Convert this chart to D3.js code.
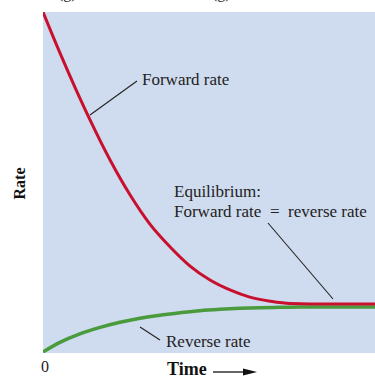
<!DOCTYPE html>
<html><head><meta charset="utf-8">
<script src="https://cdn.jsdelivr.net/npm/d3@7"></script>
<style>html,body{margin:0;padding:0;background:#fff;overflow:hidden}</style>
</head><body>
<script>
const forwardTime = [0, 0.51, 0.96, 1.42, 2.02, 2.62, 3.22, 3.83, 4.43, 5.03, 5.63, 6.23, 6.84, 7.44, 8.04, 10];
const forwardRate = [10, 8.80, 7.80, 6.83, 5.66, 4.64, 3.78, 3.11, 2.55, 2.14, 1.85, 1.64, 1.52, 1.45, 1.44, 1.44];
const reverseTime = [0, 0.51, 1.11, 1.72, 2.32, 2.92, 3.52, 4.13, 4.73, 5.33, 5.93, 6.54, 7.14, 7.74, 10];
const reverseRate = [0.03, 0.31, 0.56, 0.75, 0.90, 1.02, 1.11, 1.18, 1.24, 1.28, 1.31, 1.33, 1.34, 1.35, 1.35];
const xTickLabels = ["0"];
const W = 375, H = 377;
const svg = d3.select("body").append("svg").attr("width", W).attr("height", H);
const x = d3.scaleLinear().domain([0, 10]).range([43, 375]);
const y = d3.scaleLinear().domain([0, 10]).range([353, 12]);
const serif = "'Liberation Serif', 'Times New Roman', serif";

svg.append("defs").append("clipPath").attr("id", "clip")
  .append("rect").attr("x", x(0)).attr("y", y(10)).attr("width", x(10) - x(0)).attr("height", y(0) - y(10));

svg.append("rect").attr("x", x(0)).attr("y", y(10)).attr("width", x(10) - x(0)).attr("height", y(0) - y(10))
  .attr("fill", "#cfdbee");

// labels cut off at the top edge (as in the reference)
[["(g)", 58], ["(g)", 212]].forEach(([t, px]) => {
  svg.append("text").attr("x", px).attr("y", -2).attr("font-family", serif).attr("font-size", 16).attr("fill", "#222").text(t);
});

const line = d3.line().x(d => x(d[0])).y(d => y(d[1])).curve(d3.curveMonotoneX);
const g = svg.append("g").attr("clip-path", "url(#clip)");
g.append("path").datum(reverseTime.map((t, i) => [t, reverseRate[i]]))
  .attr("d", line).attr("fill", "none").attr("stroke", "#4a9b3c").attr("stroke-width", 3.5);
g.append("path").datum(forwardTime.map((t, i) => [t, forwardRate[i]]))
  .attr("d", line).attr("fill", "none").attr("stroke", "#c8102e").attr("stroke-width", 3);

// annotations
const ann = svg.append("g").attr("font-family", serif).attr("font-size", 17).attr("fill", "#222");
ann.append("text").attr("x", 142).attr("y", 85).text("Forward rate");
ann.append("text").attr("x", 174).attr("y", 197).text("Equilibrium:");
const eq = ann.append("text").attr("y", 217);
eq.append("tspan").attr("x", 174).text("Forward rate");
eq.append("tspan").attr("x", 270).text("=");
eq.append("tspan").attr("x", 288).text("reverse rate");
ann.append("text").attr("x", 166).attr("y", 347).text("Reverse rate");
const leaders = [[137, 81, 90, 115], [268, 223, 333, 299], [140, 327, 160, 340]];
svg.append("g").selectAll("line").data(leaders).join("line")
  .attr("x1", d => d[0]).attr("y1", d => d[1]).attr("x2", d => d[2]).attr("y2", d => d[3])
  .attr("stroke", "#222").attr("stroke-width", 1.1);

// axis labels
svg.selectAll("text.tick").data(xTickLabels).join("text").attr("class", "tick")
  .attr("x", x(0) + 2).attr("y", 372).attr("text-anchor", "middle")
  .attr("font-family", serif).attr("font-size", 16).attr("fill", "#222").text(d => d);
svg.append("text").attr("x", 167).attr("y", 375).attr("font-family", serif).attr("font-weight", "bold")
  .attr("font-size", 18).attr("fill", "#111").text("Time");
svg.append("line").attr("x1", 213).attr("y1", 372).attr("x2", 245).attr("y2", 372).attr("stroke", "#111").attr("stroke-width", 1.3);
svg.append("path").attr("d", "M243,368.5 L257,372 L243,375.5 Z").attr("fill", "#111");
svg.append("text").attr("transform", "translate(25,183.5) rotate(-90)").attr("text-anchor", "middle")
  .attr("font-family", serif).attr("font-weight", "bold").attr("font-size", 16).attr("fill", "#111").text("Rate");
</script>
</body></html>
